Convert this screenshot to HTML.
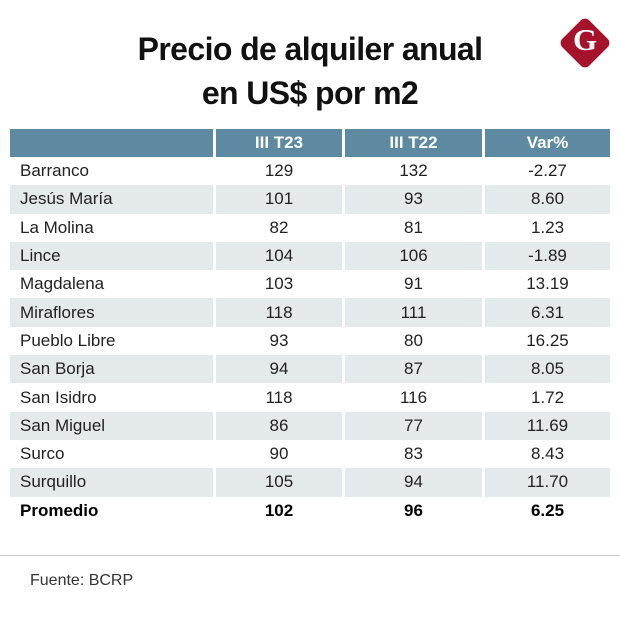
<!DOCTYPE html>
<html><head><meta charset="utf-8"><style>
body{margin:0;width:620px;height:624px;background:#fff;font-family:"Liberation Sans",sans-serif;position:relative;overflow:hidden}
h1{position:absolute;left:0;top:27px;width:620px;margin:0;text-align:center;font-size:32px;line-height:44px;font-weight:bold;color:#111;letter-spacing:-0.6px}
.logo{position:absolute;left:566px;top:24px;width:38px;height:38px;background:#a5122a;border-radius:6px;transform:rotate(45deg)}
.logoG{position:absolute;left:566px;top:22px;width:38px;text-align:center;font:bold 31px "Liberation Serif",serif;color:#fff}
table{position:absolute;left:10px;top:129px;width:600px;border-collapse:collapse;font-size:17px;color:#222}
td,th{height:28.3px;padding:0;border-left:3px solid #fff}
td:first-child,th:first-child{border-left:none}
th{background:#5d8aa0;color:#fff;font-weight:bold;height:28px}
td{text-align:center}
td:first-child{text-align:left;padding-left:10px;width:193px}
tr.s td{background:#e4e9ec}
tr.b td{font-weight:bold;color:#000}
.rule{position:absolute;left:0;top:555px;width:620px;height:1px;background:#ccc}
.src{position:absolute;left:30px;top:572px;font-size:16px;color:#333}
</style></head><body>
<h1>Precio de alquiler anual<br>en US$ por m2</h1>
<div class="logo"></div><div class="logoG">G</div>
<table>
<tr><th style="width:203px"></th><th style="width:126px">III T23</th><th style="width:137px">III T22</th><th>Var%</th></tr>
<tr><td>Barranco</td><td>129</td><td>132</td><td>-2.27</td></tr>
<tr class="s"><td>Jesús María</td><td>101</td><td>93</td><td>8.60</td></tr>
<tr><td>La Molina</td><td>82</td><td>81</td><td>1.23</td></tr>
<tr class="s"><td>Lince</td><td>104</td><td>106</td><td>-1.89</td></tr>
<tr><td>Magdalena</td><td>103</td><td>91</td><td>13.19</td></tr>
<tr class="s"><td>Miraflores</td><td>118</td><td>111</td><td>6.31</td></tr>
<tr><td>Pueblo Libre</td><td>93</td><td>80</td><td>16.25</td></tr>
<tr class="s"><td>San Borja</td><td>94</td><td>87</td><td>8.05</td></tr>
<tr><td>San Isidro</td><td>118</td><td>116</td><td>1.72</td></tr>
<tr class="s"><td>San Miguel</td><td>86</td><td>77</td><td>11.69</td></tr>
<tr><td>Surco</td><td>90</td><td>83</td><td>8.43</td></tr>
<tr class="s"><td>Surquillo</td><td>105</td><td>94</td><td>11.70</td></tr>
<tr class="b"><td>Promedio</td><td>102</td><td>96</td><td>6.25</td></tr>
</table>
<div class="rule"></div>
<div class="src">Fuente: BCRP</div>
</body></html>
